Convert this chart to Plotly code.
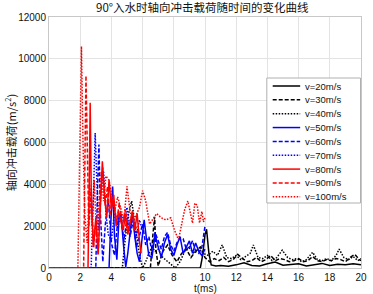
import plotly.graph_objects as go

# ---------------- data ----------------
labels = ["v=20m/s", "v=30m/s", "v=40m/s", "v=50m/s", "v=60m/s",
          "v=70m/s", "v=80m/s", "v=90m/s", "v=100m/s"]

t20 = [0, 9.7, 9.85, 10.0, 10.1, 10.25, 10.4, 10.7, 11.0, 11.5, 12.0, 12.5, 13.0, 13.5,
       14.0, 14.5, 15.0, 15.5, 16.0, 16.5, 17.0, 17.5, 18.0, 18.5, 19.0, 19.5, 20.0]
y20 = [0, 0, 600, 1600, 1850, 700, 150, 100, 120, 80, 150, 250, 120, 100,
       200, 280, 130, 150, 200, 100, 150, 220, 120, 180, 150, 200, 150]

t30 = [0, 6.5, 6.65, 6.77, 6.85, 7.0, 7.3, 7.6, 7.9, 8.2, 8.5, 8.8, 9.1, 9.4, 9.7, 10.0,
       10.3, 10.6, 10.9, 11.2, 11.5, 11.8, 12.1, 12.4, 12.7, 13.0, 13.3, 13.6, 13.9, 14.2,
       14.5, 14.8, 15.1, 15.4, 15.7, 16.0, 16.3, 16.6, 16.9, 17.2, 17.5, 17.8, 18.1, 18.4,
       18.7, 19.0, 19.3, 19.6, 19.9, 20.0]
y30 = [0, 0, 1500, 2450, 900, 100, 800, 1100, 600, 300, 700, 900, 500, 800, 1000, 500,
       300, 450, 350, 500, 300, 400, 650, 450, 300, 350, 500, 300, 400, 600,
       350, 450, 400, 300, 350, 450, 300, 350, 550, 350, 300, 400, 350, 450,
       400, 300, 500, 650, 400, 350]

t40 = [0, 4.7, 4.9, 5.1, 5.3, 5.45, 5.6, 5.8, 6.0, 6.2, 6.4, 6.6, 6.8, 7.0, 7.3, 7.6, 7.9,
       8.1, 8.4, 8.7, 9.0, 9.3, 9.6, 9.9, 10.2, 10.5, 10.8, 11.1, 11.4, 11.7, 12.0, 12.3,
       12.6, 12.9, 13.1, 13.4, 13.7, 14.0, 14.3, 14.6, 14.95, 15.3, 15.6, 15.9, 16.2, 16.5,
       16.9, 17.2, 17.5, 17.8, 18.1, 18.4, 18.6, 18.9, 19.2, 19.5, 19.8, 20.0]
y40 = [0, 0, 1500, 2600, 3200, 2400, 1500, 600, 0, 300, 700, 1000, 800, 900, 500, 300, 100,
       0, 300, 800, 950, 700, 900, 700, 600, 800, 600, 1100, 500, 450, 600, 400,
       550, 700, 1100, 500, 450, 600, 350, 500, 850, 500, 400, 450, 300, 400,
       750, 400, 350, 450, 350, 600, 900, 500, 400, 550, 350, 450]

t50 = [0, 3.85, 3.95, 4.08, 4.2, 4.35, 4.5, 4.65, 4.8, 4.92, 5.05, 5.2, 5.35, 5.5, 5.65,
       5.8, 5.95, 6.1, 6.25, 6.4, 6.6, 6.8, 7.0, 7.2, 7.4, 7.6, 7.8, 8.0, 8.2, 8.4, 8.6,
       8.8, 9.0, 9.2, 9.4, 9.6, 9.8, 10.0]
y50 = [0, 0, 2000, 3900, 1500, 400, 2600, 2200, 900, 50, 700, 1800, 2700, 1500, 700,
       300, 1200, 2300, 1400, 600, 500, 1600, 1000, 500, 1200, 1600, 900, 600, 1100, 1500, 700,
       1000, 1300, 700, 1200, 800, 600, 900]

t60 = [0, 3.0, 3.1, 3.2, 3.3, 3.45, 3.6, 3.8, 4.0, 4.2, 4.4, 4.6, 4.8, 5.0, 5.2, 5.4, 5.6,
       5.8, 6.0, 6.2, 6.4, 6.6, 6.8, 7.0, 7.2, 7.4, 7.6, 7.8, 8.0, 8.2, 8.4, 8.6, 8.8, 9.0,
       9.2, 9.4, 9.6, 9.8, 10.0]
y60 = [0, 0, 3500, 5900, 2500, 300, 2000, 3300, 1200, 600, 2200, 2600, 1300, 2400, 1500,
       2300, 1000, 1600, 2100, 1100, 1500, 800, 1700, 1300, 900, 1500, 1700, 1100, 800, 1200,
       1450, 1400, 900, 1000, 1300, 800, 700, 1000, 2000]

t70 = [0, 2.7, 2.85, 2.96, 3.05, 3.2, 3.35, 3.5, 3.65, 3.8, 4.0, 4.2, 4.4, 4.6, 4.8, 5.0,
       5.2, 5.4, 5.6, 5.8, 6.0]
y70 = [0, 0, 3500, 6450, 4500, 1800, 3800, 4600, 2600, 1600, 1300, 2700, 1900, 2600, 2200,
       2900, 1900, 2400, 1500, 2300, 1800]

t80 = [0, 2.5, 2.58, 2.64, 2.72, 2.85, 3.0, 3.15, 3.3, 3.42, 3.55, 3.7, 3.85, 4.0, 4.15,
       4.3, 4.45, 4.6, 4.75, 4.9, 5.05, 5.2, 5.35, 5.5, 5.65, 5.8, 5.9]
y80 = [0, 0, 4000, 7900, 3000, 1000, 2400, 700, 3000, 5100, 3500, 2400, 4200, 2800, 3500,
       2000, 2700, 2300, 1800, 2500, 1600, 2200, 2700, 1800, 2600, 1300, 700]

t90 = [0, 2.22, 2.3, 2.37, 2.45, 2.55, 2.7, 2.85, 3.0, 3.15, 3.3, 3.45, 3.6, 3.75, 3.9,
       4.05, 4.2, 4.35, 4.5, 4.7, 4.9, 5.1, 5.3, 5.5, 5.7]
y90 = [0, 0, 5000, 9200, 6000, 2000, 3800, 1000, 2200, 600, 3500, 4800, 3000, 3900, 2500,
       3300, 2900, 2200, 3100, 2000, 2800, 1800, 2500, 2100, 1700]

t100 = [0, 1.85, 1.95, 2.08, 2.18, 2.3, 2.45, 2.6, 2.75, 2.9, 3.05, 3.2, 3.35, 3.5, 3.65,
        3.85, 4.0, 4.2, 4.4, 4.6, 4.8, 5.0, 5.2, 5.4, 5.6, 5.8, 6.0, 6.2, 6.45, 6.7, 6.9,
        7.2, 7.5, 7.8, 8.05, 8.3, 8.5, 8.7, 8.9, 9.05, 9.2, 9.35, 9.5, 9.65, 9.8, 9.9, 10.0]
y100 = [0, 0, 4500, 10600, 6000, 2500, 1200, 4000, 2000, 4200, 1500, 3000, 4600, 3200, 4400,
        4200, 3600, 2700, 3400, 2800, 2300, 3900, 2700, 2200, 2600, 2900, 3700, 3200, 2100, 2400, 2600,
        2400, 2300, 2400, 1800, 1350, 2000, 2800, 3200, 2600, 2150, 3100, 3000, 2150, 2700, 2200, 2400]

xs = [t20, t30, t40, t50, t60, t70, t80, t90, t100]
ys = [y20, y30, y40, y50, y60, y70, y80, y90, y100]

x_ticks = [0, 2, 4, 6, 8, 10, 12, 14, 16, 18, 20]
y_ticks = [0, 2000, 4000, 6000, 8000, 10000, 12000]

# ---------------- styles ----------------
colors = ["#000000"] * 3 + ["#0000ff"] * 3 + ["#ff0000"] * 3
DASH = "4px,2px"
DOT = "1.5px,1.5px"
dashes = ["solid", DASH, DOT] * 3

fig = go.Figure()
for x, y, c, d, name in zip(xs, ys, colors, dashes, labels):
    fig.add_trace(go.Scatter(x=x, y=y, mode="lines", name=name,
                             line=dict(color=c, dash=d, width=1.5),
                             showlegend=False, hoverinfo="skip"))

W, H = 373, 294
L, R, T, B = 49, 6, 17, 26
pw, ph = W - L - R, H - T - B

def px(xp):
    return (xp - L) / pw

def py(yp):
    return (H - B - yp) / ph

shapes = []
annotations = []

# legend box (manual, MATLAB-like)
shapes.append(dict(type="rect", xref="paper", yref="paper",
                   x0=px(271), x1=px(366.5), y0=py(203), y1=py(78),
                   line=dict(color="#b0b0b0", width=1), fillcolor="white", layer="above"))
for i, (c, d, name) in enumerate(zip(colors, dashes, labels)):
    yy = 86 + i * 13.85
    shapes.append(dict(type="line", xref="paper", yref="paper",
                       x0=px(277), x1=px(305), y0=py(yy), y1=py(yy),
                       line=dict(color=c, dash=d, width=1.5), layer="above"))
    annotations.append(dict(xref="paper", yref="paper", x=px(308), y=py(yy),
                            text=name, showarrow=False, xanchor="left", yanchor="middle",
                            font=dict(family="Liberation Sans, Arial", size=9.5, color="#111")))

# axis titles & title
annotations.append(dict(xref="paper", yref="paper", x=px(208), y=py(288.5),
                        text="t(ms)", showarrow=False, xanchor="center", yanchor="middle",
                        font=dict(family="Liberation Sans, Arial", size=10, color="#111")))
annotations.append(dict(xref="paper", yref="paper", x=px(10), y=0.5,
                        text="轴向冲击载荷(m/s<sup>2</sup>)", showarrow=False, textangle=-90,
                        xanchor="center", yanchor="middle",
                        font=dict(family="Noto Sans CJK SC", size=11, color="#111")))
annotations.append(dict(xref="paper", yref="paper", x=px(205), y=py(7),
                        text="90°入水时轴向冲击载荷随时间的变化曲线", showarrow=False,
                        xanchor="center", yanchor="middle",
                        font=dict(family="Noto Sans CJK SC", size=11.5, color="#111")))

fig.update_layout(
    width=W, height=H,
    margin=dict(l=L, r=R, t=T, b=B, pad=0),
    paper_bgcolor="white", plot_bgcolor="white",
    shapes=shapes, annotations=annotations,
    showlegend=False,
    xaxis=dict(range=[0, 20], tickvals=x_ticks, ticktext=[str(v) for v in x_ticks],
               showgrid=True, gridcolor="#e3e3e3", gridwidth=1,
               showline=True, linecolor="#c8c8c8", linewidth=1, mirror=True,
               zeroline=False, ticks="", ticklen=0,
               tickfont=dict(family="Liberation Sans, Arial", size=10, color="#111")),
    yaxis=dict(range=[0, 12000], tickvals=y_ticks, ticktext=[str(v) for v in y_ticks],
               showgrid=True, gridcolor="#e3e3e3", gridwidth=1,
               showline=True, linecolor="#c8c8c8", linewidth=1, mirror=True,
               zeroline=False, ticks="", ticklen=0,
               tickfont=dict(family="Liberation Sans, Arial", size=10, color="#111")),
)

fig.write_html("out.html", config={"displayModeBar": False},
               post_script="document.body.style.margin='0';document.body.style.overflow='hidden';")
